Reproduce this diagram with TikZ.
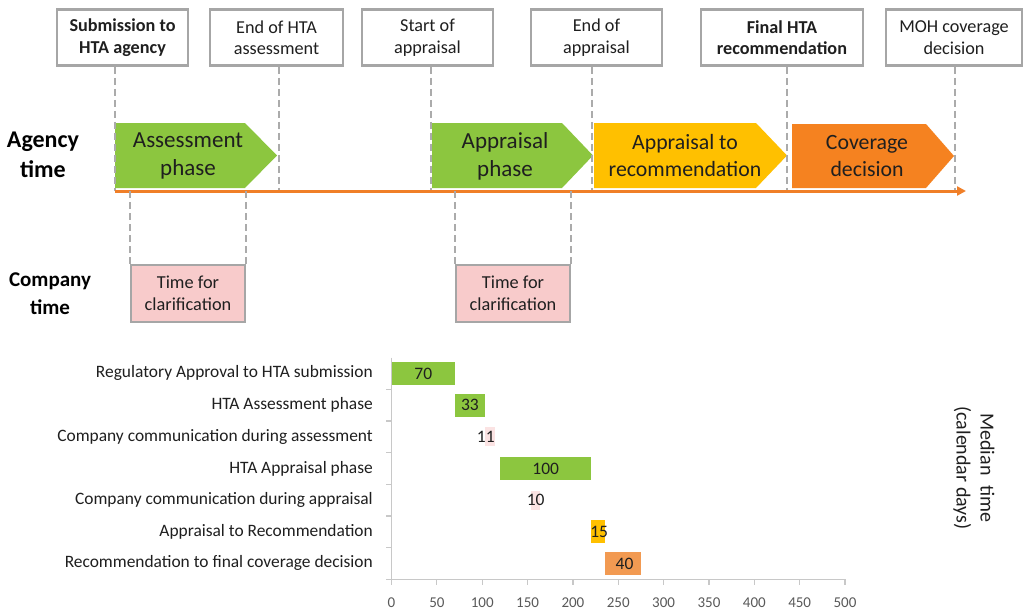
\documentclass[tikz,border=0pt]{standalone}
\usepackage{fontspec}
\setmainfont{Carlito}
\usetikzlibrary{arrows.meta}
\definecolor{boxgray}{HTML}{A6A6A6}
\definecolor{guidegray}{HTML}{ABABAB}
\definecolor{phasegreen}{HTML}{8CC63F}
\definecolor{phaseyellow}{HTML}{FFC000}
\definecolor{phaseorange}{HTML}{F58220}
\definecolor{lineorange}{HTML}{F07F28}
\definecolor{clarpink}{HTML}{F8CBCB}
\definecolor{faintpink}{HTML}{FBE3E3}
\definecolor{barorange}{HTML}{F29A52}
\definecolor{axisgray}{HTML}{C8C8C8}
\definecolor{ticktext}{HTML}{595959}
\definecolor{ink}{HTML}{1F1F1F}
\begin{document}
\begin{tikzpicture}[x=1pt, y=-1pt,
  milestone/.style={draw=boxgray, line width=2.6pt, fill=white, minimum height=56, inner sep=0,
    align=center, text=ink, font=\fontsize{18.2}{21.5}\selectfont},
  guide/.style={draw=guidegray, line width=2.2pt, dash pattern=on 7pt off 4pt},
  phaselabel/.style={align=center, text=ink, font=\fontsize{23}{28}\selectfont},
  sidelabel/.style={align=center, text=black},
  clar/.style={draw=boxgray, line width=2.4pt, fill=clarpink, minimum width=114, minimum height=57,
    align=center, text=ink, inner sep=0, font=\fontsize{18.3}{21.5}\selectfont},
  rowlabel/.style={anchor=east, text=ink, inner sep=0, font=\fontsize{17.4}{20}\selectfont},
  barval/.style={text=ink, inner sep=0, font=\fontsize{17.5}{20}\selectfont},
  ticklabel/.style={text=ticktext, inner sep=0, font=\fontsize{15}{18}\selectfont},
  axis/.style={draw=axisgray, line width=1.2pt}]
\useasboundingbox[fill=white] (0,0) rectangle (1026,610);

% ---- milestones ----
\node[milestone, minimum width=131] (m1) at (122.5,37.5) {\bfseries Submission to\\\bfseries HTA agency};
\node[milestone, minimum width=133] (m2) at (276.5,37.5) {End of HTA\\assessment};
\node[milestone, minimum width=131] (m3) at (427.5,37.5) {Start of\\appraisal};
\node[milestone, minimum width=131] (m4) at (596.5,37.5) {End of\\appraisal};
\node[milestone, minimum width=162] (m5) at (782,37.5) {\bfseries Final HTA\\\bfseries recommendation};
\node[milestone, minimum width=136] (m6) at (954,37.5) {MOH coverage\\decision};

% ---- time line ----
\coordinate (tl0) at (115,191);
\coordinate (tl1) at (966,191);
\coordinate (t1) at (115,191);
\coordinate (t2) at (279,191);
\coordinate (t3) at (431,191);
\coordinate (t4) at (592,191);
\coordinate (t5) at (787,191);
\coordinate (t6) at (955,191);

% ---- phase arrows ----
\fill[phasegreen]  (115,123) -- (245,123) -- (277,155.5) -- (245,188) -- (115,188) -- cycle;
\fill[phasegreen]  (432,123) -- (562,123) -- (593,155.5) -- (562,188) -- (432,188) -- cycle;
\fill[phaseyellow] (594,123) -- (756,123) -- (787,155.5) -- (756,188) -- (594,188) -- cycle;
\fill[phaseorange] (792,124) -- (926,124) -- (954,156) -- (926,188) -- (792,188) -- cycle;
\node[phaselabel] (p1) at (188,156) {Assessment\\phase};
\node[phaselabel] (p2) at (505,156) {Appraisal\\phase};
\node[phaselabel, font=\fontsize{21.8}{27}\selectfont] (p3) at (685,156) {Appraisal to\\recommendation};
\node[phaselabel, font=\fontsize{21.8}{27}\selectfont] (p4) at (867,156) {Coverage\\decision};

% ---- guides from milestones down to the time line ----
\foreach \i in {1,...,6} \draw[guide] (m\i.south -| t\i) -- (t\i);

\draw[lineorange, line width=3pt, -{Triangle[length=9pt, width=9pt]}] (tl0) -- (tl1);

% ---- company time ----
\node[clar] (c1) at (188,293.5) {Time for\\clarification};
\node[clar] (c2) at (513,293.5) {Time for\\clarification};
\draw[guide] (c1.north west |- tl0) -- (c1.north west);
\draw[guide] (c1.north east |- tl0) -- (c1.north east);
\draw[guide] (c2.north west |- tl0) -- (c2.north west);
\draw[guide] (c2.north east |- tl0) -- (c2.north east);

% ---- side labels ----
\node[sidelabel, font=\bfseries\fontsize{24}{30}\selectfont] (agency) at (43,155) {Agency\\time};
\node[sidelabel, font=\bfseries\fontsize{21}{28}\selectfont] (company) at (50,294) {Company\\time};

% ---- median times chart ----
\node[rowlabel] (r1) at (373,373.4) {Regulatory Approval to HTA submission};
\node[rowlabel] (r2) at (373,405.1) {HTA Assessment phase};
\node[rowlabel] (r3) at (373,436.7) {Company communication during assessment};
\node[rowlabel] (r4) at (373,468.4) {HTA Appraisal phase};
\node[rowlabel] (r5) at (373,500.1) {Company communication during appraisal};
\node[rowlabel] (r6) at (373,531.8) {Appraisal to Recommendation};
\node[rowlabel] (r7) at (373,563.4) {Recommendation to final coverage decision};

\begin{scope}[xshift=391.5pt, x=0.907pt]
  \draw[axis] (0,357.6) -- (0,579.3) -- (500,579.3);
  \foreach \k in {1,...,7} \draw[axis] (0,357.6+31.67*\k) -- (-6.5,357.6+31.67*\k);
  \foreach \v in {0,50,...,500} {
    \draw[axis] (\v,579.3) -- (\v,585);
    \node[ticklabel] (tick\v) at (\v,603) {\v};
  }
  \fill[phasegreen]  (0,361.9)   rectangle (70,384.9);
  \fill[phasegreen]  (70,393.6)  rectangle (103,416.6);
  \fill[faintpink]   (103,427.2) rectangle (114,446.2);
  \fill[phasegreen]  (120,456.9) rectangle (220,479.9);
  \fill[faintpink]   (154,490.6) rectangle (164,509.6);
  \fill[phaseyellow] (220,520.3) rectangle (235,543.3);
  \fill[barorange]   (235,551.9) rectangle (275,574.9);
  \node[barval] (v1) at (35,373.4)    {70};
  \node[barval] (v2) at (86.5,405.1)  {33};
  \node[barval] (v3) at (104,436.7)   {11};
  \node[barval] (v4) at (170,468.4)   {100};
  \node[barval] (v5) at (159,500.1)   {10};
  \node[barval] (v6) at (229,531.8)   {15};
  \node[barval] (v7) at (257,563.4)   {40};
\end{scope}

\node[rotate=-90, align=center, text=ink, font=\fontsize{20}{24}\selectfont] (ylab) at (974,468)
  {Median\enspace time\\(calendar days)};
\end{tikzpicture}
\end{document}
